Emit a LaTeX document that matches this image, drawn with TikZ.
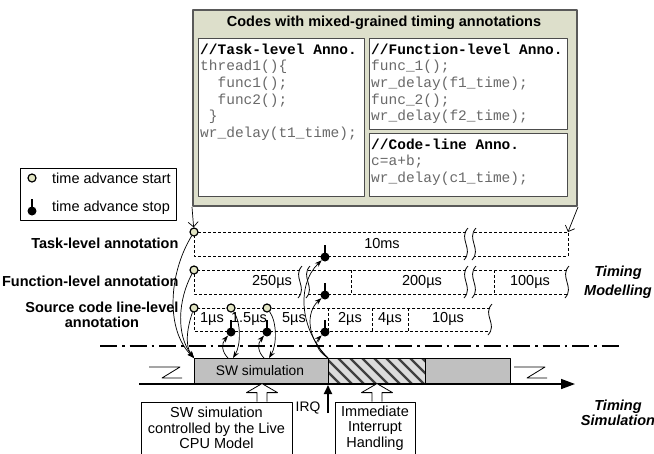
\documentclass[tikz,border=0pt]{standalone}
\usepackage{fontspec}
\setmainfont{Liberation Sans}
\setmonofont{Liberation Mono}
\usetikzlibrary{arrows.meta}
\definecolor{boxgreen}{RGB}{221,223,203}
\definecolor{dotfill}{RGB}{226,229,196}
\definecolor{bargray}{RGB}{192,192,192}
\definecolor{codegray}{RGB}{105,105,105}
\newcommand\breakmark[3]{\draw[line width=0.8pt] (#1+2,#2-4) .. controls (#1-8,#2+7) and (#1+8,#3-7) .. (#1-2,#3+4);}
\begin{document}
\begin{tikzpicture}[x=1pt,y=-1pt, line join=round, >=Stealth, font=\fontsize{14.5}{16}\selectfont]
			\tikzset{startc/.style={circle,draw,line width=1.2pt,fill=dotfill,inner sep=0pt,minimum size=8pt},
				ball/.style={circle,fill=black,inner sep=0pt,minimum size=9pt},
				stem/.style={line width=1.6pt},
				dashbox/.style={dash pattern=on 3pt off 2pt,line width=0.7pt},
				codetxt/.style={anchor=north west,inner sep=0pt,align=left,text=codegray,font=\ttfamily\fontsize{14.5}{16.6}\selectfont},
				inbox/.style={draw=black!70,line width=1.4pt,fill=white,anchor=north west,inner sep=0pt},
				lbl/.style={anchor=east,font=\bfseries\fontsize{14.5}{15.5}\selectfont},
				side/.style={align=center,font=\bfseries\itshape\fontsize{14.5}{#1}\selectfont},
				note/.style={draw,line width=0.8pt,fill=white,align=center,minimum height=52pt,font=\fontsize{14.5}{15.5}\selectfont},
				hollow/.style={draw,line width=0.8pt,fill=white},
				feed/.style={-{Stealth[length=7pt,width=5pt]},line width=0.7pt},
				pull/.style={-{Straight Barb[length=5pt,width=10pt]},line width=0.7pt}}
			\useasboundingbox (0,0) rectangle (654,453);
			\node[draw=black!65,line width=2pt,fill=boxgreen,minimum width=384pt,minimum height=196pt,anchor=north west,inner sep=0pt] (codes) at (192,9) {};
			\node[font=\bfseries\fontsize{14.5}{16}\selectfont] (title) at (384,23) {Codes with mixed-grained timing annotations};
			\node[inbox,minimum width=166pt,minimum height=158pt] (taskbox) at (198,38) {};
			\node[inbox,minimum width=198pt,minimum height=91pt] (funcbox) at (369,38) {};
			\node[inbox,minimum width=198pt,minimum height=63pt] (linebox) at (369,133) {};
			\node[codetxt] (taskcode) at (200,43.5) {{\color{black}\bfseries //Task-level Anno.}\\thread1()\{\\\ \ func1();\\\ \ func2();\\\ \}\\wr\_delay(t1\_time);};
			\node[codetxt] (funccode) at (371,43.5) {{\color{black}\bfseries //Function-level Anno.}\\func\_1();\\wr\_delay(f1\_time);\\func\_2();\\wr\_delay(f2\_time);};
			\node[codetxt] (linecode) at (371,138.5) {{\color{black}\bfseries //Code-line Anno.}\\c=a+b;\\wr\_delay(c1\_time);};
			\node[draw,line width=0.8pt,minimum width=156pt,minimum height=52pt,anchor=north west] (legend) at (20,168) {};
			\node[startc] (lgS) at (32,178) {};
			\node[anchor=west,inner sep=0pt] (lgStxt) at (52,178) {time advance start};
			\node[ball] (lgP) at (32,211) {};
			\draw[stem] (lgP.center) -- ++(0,-12);
			\node[anchor=west,inner sep=0pt] (lgPtxt) at (52,208) {time advance stop};
			\node[lbl] (lblT) at (182,243) {Task-level annotation};
			\node[lbl] (lblF) at (182,281) {Function-level annotation};
			\node[lbl,align=center] (lblS) at (182,315) {Source code line-level\\annotation};
			\node[side=19pt] (tmod) at (618,282) {Timing\\Modelling};
			\node[side=15pt] (tsim) at (618,413) {Timing\\Simulation};
			\draw[dashbox] (466,232) -- (194,232) -- (194,256) -- (466,256);
			\draw[dashbox] (474,232) -- (568,232) -- (568,256) -- (474,256);
			\breakmark{466}{232}{256}\breakmark{474}{232}{256}
			\draw[dashbox] (300,270) -- (194,270) -- (194,294) -- (300,294);
			\draw[dashbox] (308,270) -- (466,270) (308,294) -- (466,294);
			\draw[dashbox] (474,270) -- (567,270) (474,294) -- (567,294);
			\foreach \x in {351,494} \draw[dashbox] (\x,270) -- (\x,294);
			\foreach \x in {300,308,466,474,567} \breakmark{\x}{270}{294}
			\draw[dashbox] (490,308) -- (194,308) -- (194,331) -- (490,331);
			\foreach \x in {328,372,408} \draw[dashbox] (\x,308) -- (\x,331);
			\breakmark{490}{308}{331}
			\foreach \x/\y/\t [count=\i] in {382/244/10ms,272/282/250µs,422/282/200µs,530/282/100µs,212/319/1µs,249/319/1.5µs,294/319/5µs,350/319/2µs,390/319/4µs,448/319/10µs}
				\node (sg\i) at (\x,\y) {\t};
			\coordinate (tR) at (568,232);
			\node[startc] (tS) at (194,232) {};
			\node[startc] (fS) at (194,270) {};
			\node[startc] (sS1) at (194,308) {};
			\node[startc] (sS2) at (231,308) {};
			\node[startc] (sS3) at (267,308) {};
			\foreach \n/\x/\y in {tP/325/257,fP/325/295,sP1/231/332,sP2/267/332,sP3/325/332}{
				\node[ball] (\n) at (\x,\y) {};
				\draw[stem] (\n.center) -- ++(0,-12);}
			\draw[pull] (codes.south west) -- (tS);
			\draw[pull] (codes.south east) -- (tR);
			\draw[line width=2.5pt,dash pattern=on 17pt off 5pt on 2.5pt off 5pt] (100,346) -- (619,346);
			\coordinate (bar0) at (194,358);
			\coordinate (irq) at (328,358);
			\coordinate (b2) at (231,358);
			\coordinate (b3) at (267,358);
			\fill[bargray] (194,358) rectangle (328,384) (425,358) rectangle (510,384);
			\begin{scope}
				\clip (328,358) rectangle (425,384);
				\fill[bargray!55] (328,358) rectangle (425,384);
				\foreach \h in {302,314,...,426} \draw[line width=2.4pt,black!75] (\h,358) -- (\h+26,384);
			\end{scope}
			\draw[line width=0.8pt] (194,358) rectangle (510,384) (328,358) -- (328,384) (425,358) -- (425,384);
			\node[font=\fontsize{13.8}{15}\selectfont] (swlbl) at (260,371) {SW simulation};
			\draw[feed] (tS) .. controls (168,275) and (166,330) .. (bar0);
			\draw[feed] (fS) .. controls (178,300) and (176,335) .. (bar0);
			\draw[feed] (sS1) .. controls (188,325) and (184,345) .. (bar0);
			\draw[feed] (sS2) .. controls (241,322) and (241,345) .. ([xshift=2pt]b2);
			\draw[feed] ([xshift=-3pt]b2) .. controls (222,352) and (221,344) .. (sP1);
			\draw[feed] (sS3) .. controls (277,322) and (277,345) .. ([xshift=2pt]b3);
			\draw[feed] ([xshift=-3pt]b3) .. controls (258,352) and (257,344) .. (sP2);
			\draw[feed] (irq) .. controls (300,330) and (296,285) .. (tP);
			\draw[feed] (irq) .. controls (306,338) and (306,312) .. (fP);
			\draw[feed] (irq) .. controls (316,350) and (315,342) .. (sP3);
			\draw[line width=0.8pt] (149,367) -- (180,367) -- (162,378) -- (182,378);
			\draw[line width=0.8pt] (514,367) -- (545,367) -- (527,378) -- (547,378);
			\coordinate (ax0) at (139,384);
			\coordinate (ax1) at (575,384);
			\draw[line width=1.5pt,-{Triangle[length=14pt,width=10pt]}] (ax0) -- (ax1);
			\coordinate (irqfoot) at (328,413);
			\coordinate (irqtip) at (328,385);
			\draw[line width=2pt,-{Triangle[length=9pt,width=8pt]}] (irqfoot) -- (irqtip);
			\node[font=\fontsize{13.8}{15}\selectfont] (irqlbl) at (308,408) {IRQ};
			\node[note,minimum width=151pt] (box1) at (216.5,428) {SW simulation\\controlled by the Live\\CPU Model};
			\node[note,minimum width=80pt] (box2) at (375,428) {Immediate\\Interrupt\\Handling};
			\draw[hollow] (box1.north) ++(40.5,0) -- ++(0,-9) -- ++(-10.5,0) -- ++(15.5,-9) -- ++(15.5,9) -- ++(-10.5,0) -- ++(0,9);
			\draw[hollow] (box2.north) ++(-3,0) -- ++(0,-9) -- ++(-10.5,0) -- ++(15.5,-9) -- ++(15.5,9) -- ++(-10.5,0) -- ++(0,9);
		\end{tikzpicture}
\end{document}
